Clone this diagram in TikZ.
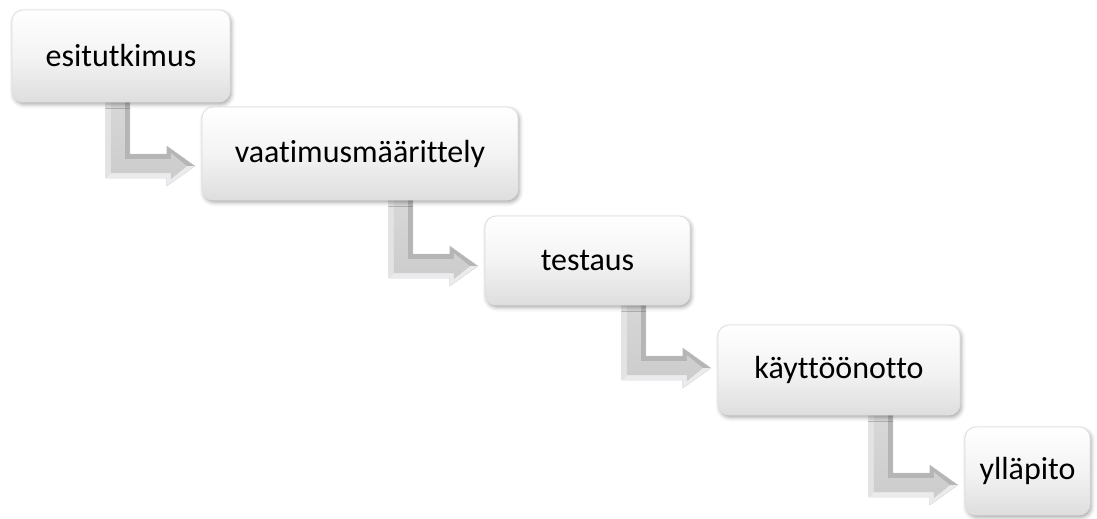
\documentclass[tikz,border=0pt]{standalone}
\usepackage{fontspec}
\setmainfont{Carlito}[Ligatures=NoCommon]
\usetikzlibrary{calc,shadows.blur}
\tikzset{
  stagebox/.style={rounded corners=11pt, draw=gray!25, line width=0.8pt,
    top color=white, bottom color=gray!26, middle color=gray!9,
    blur shadow={shadow xshift=1.5pt, shadow yshift=-2.5pt, shadow blur radius=4pt, shadow opacity=35},
    inner sep=0pt, font=\fontsize{32}{36}\selectfont, text=black},
  arrowouter/.style={fill=gray!58, draw=gray!45, line width=0.4pt, line join=round},
  arrowleft/.style={fill=gray!22},
  arrowlow/.style={fill=white!85!blue!30!gray!20},
  arrowinner/.style={top color=gray!30, bottom color=gray!40}
}
\newcommand\bentarrow[2]{%
  \begin{scope}[shift={($(#1.west)+(-7,#2)$)}]
    \path[arrowouter] (-89,-75) -- (-65,-75) -- (-65,-12) -- (-28,-12) -- (-28,-20) -- (0,0)
      -- (-28,20) -- (-28,12) -- (-89,12) -- cycle;
    \path[arrowleft] (-89,-75) -- (-84,-75) -- (-84,7) -- (-89,12) -- cycle;
    \path[arrowlow] (-89,12) -- (-84,7) -- (-24,7) -- (-24,13) -- (-8,0) -- (0,0)
      -- (-28,20) -- (-28,12) -- cycle;
    \path[arrowinner] (-84,-75) -- (-70,-75) -- (-70,-7) -- (-24,-7) -- (-24,-13) -- (-8,0)
      -- (-24,13) -- (-24,7) -- (-84,7) -- cycle;
  \end{scope}}
\begin{document}
\begin{tikzpicture}[x=1pt,y=-1pt]
\useasboundingbox (0,0) rectangle (1097,519);
% invisible anchors for arrow placement (boxes drawn afterwards on top)
\path (360,153.5) node[minimum width=316pt, minimum height=93pt, inner sep=0pt] (p2) {};
\path (587.5,260.5) node[minimum width=205pt, minimum height=89pt, inner sep=0pt] (p3) {};
\path (839,370) node[minimum width=242pt, minimum height=90pt, inner sep=0pt] (p4) {};
\path (1027.5,471) node[minimum width=125pt, minimum height=88pt, inner sep=0pt] (p5) {};
\bentarrow{p2}{12.5}
\bentarrow{p3}{5.5}
\bentarrow{p4}{-2}
\bentarrow{p5}{14}
\node[stagebox, minimum width=218pt, minimum height=92pt] (b1) at (121,56) {esitutkimus};
\node[stagebox, minimum width=316pt, minimum height=93pt] (b2) at (p2) {vaatimusmäärittely};
\node[stagebox, minimum width=205pt, minimum height=89pt] (b3) at (p3) {testaus};
\node[stagebox, minimum width=242pt, minimum height=90pt] (b4) at (p4) {käyttöönotto};
\node[stagebox, minimum width=125pt, minimum height=88pt] (b5) at (p5) {ylläpito};
\end{tikzpicture}
\end{document}
